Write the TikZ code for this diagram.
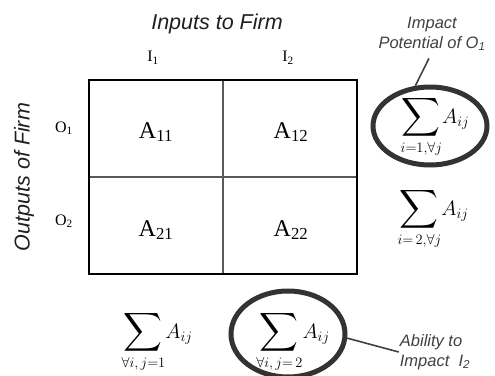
\documentclass[tikz,border=0pt]{standalone}
\usepackage{amsmath}
\usepackage{fontspec}
\setmainfont{Liberation Serif}
\newfontfamily\lsans{Liberation Sans}
\usetikzlibrary{shapes.geometric}
\newcommand\bigsumop{\mathop{\vcenter{\hbox{\scalebox{1.3}{$\displaystyle\sum$}}}}\limits}
\tikzset{
  title/.style={font=\lsans\itshape\fontsize{21.5}{25}\selectfont, text=black!88},
  lbl/.style={font=\fontsize{16}{19}\selectfont},
  cell/.style={font=\fontsize{24}{28}\selectfont},
  sumst/.style={font=\fontsize{20}{24}\selectfont, inner sep=0pt},
  note/.style={font=\lsans\itshape\fontsize{16.5}{20}\selectfont, text=black!75, align=center, inner sep=1pt},
  ring/.style={ellipse, draw=black!80, line width=5pt, inner sep=0pt},
  leader/.style={draw=black!75, line width=1.6pt},
}
\begin{document}
\begin{tikzpicture}[x=1pt,y=-1pt]
\useasboundingbox (0,0) rectangle (495,375);
% grid
\node[minimum width=268pt, minimum height=194pt, inner sep=0pt] (grid) at (223,177) {};
\draw[black!65, line width=1.3pt] (grid.north) -- (grid.south);
\draw[black!65, line width=1.3pt] (grid.west) -- (grid.east);
\draw[line width=2pt] (grid.south west) rectangle (grid.north east);
% headings
\node[title] (inputs) at (217,24) {Inputs to Firm};
\node[title, rotate=90] (outputs) at (24,177) {Outputs of Firm};
\node[lbl] (i1) at (153,58) {I\textsubscript{1}};
\node[lbl] (i2) at (288,58) {I\textsubscript{2}};
\node[lbl] (o1) at (64,128) {O\textsubscript{1}};
\node[lbl] (o2) at (64,221) {O\textsubscript{2}};
% cells
\node[cell] (a11) at (156,132) {A\textsubscript{11}};
\node[cell] (a12) at (291,132) {A\textsubscript{12}};
\node[cell] (a21) at (156,230) {A\textsubscript{21}};
\node[cell] (a22) at (291,230) {A\textsubscript{22}};
% row sums
\node[ring, minimum width=114pt, minimum height=78pt] (ring1) at (430,126) {};
\node[sumst] (s1) at (435,127) {$\bigsumop_{i=1,\forall j}\! A_{ij}$};
\node[sumst] (s2) at (433,219) {$\bigsumop_{i=\,2,\forall j}\! A_{ij}$};
\node[note] (n1) at (432,34) {Impact\\Potential of O\textsubscript{1}};
\draw[leader, shorten <=7pt] (n1.south) -- (ring1.110);
% column sums
\node[sumst] (s3) at (157,342) {$\bigsumop_{\forall i,\,j=1}\! A_{ij}$};
\node[ring, minimum width=114pt, minimum height=86pt] (ring2) at (288,334) {};
\node[sumst] (s4) at (293,342) {$\bigsumop_{\forall i,\,j=\,2}\! A_{ij}$};
\node[note, align=left] (n2) at (435,352) {Ability to\\Impact~~I\textsubscript{2}};
\draw[leader] (ring2.356) -- (n2.west);
\end{tikzpicture}
\end{document}
